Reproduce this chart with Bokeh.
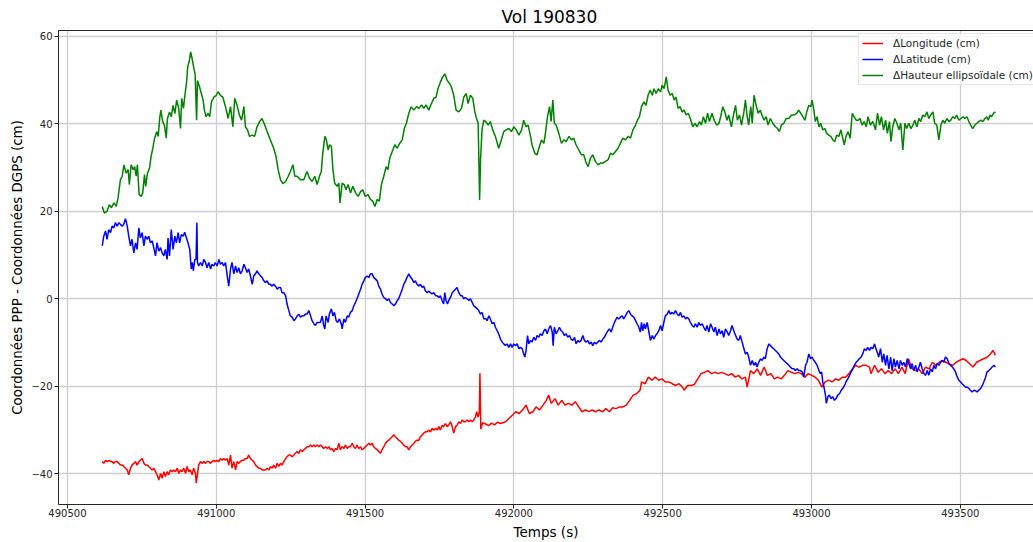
from bokeh.plotting import figure
from bokeh.models import (LinearAxis, FixedTicker, BasicTickFormatter, Legend,
                          LegendItem, Range1d)
from bokeh.embed import file_html
from bokeh.resources import INLINE

FONT = "DejaVu Sans"

title_text = "Vol 190830"
x_label = "Temps (s)"
y_label = "Coordonnées PPP - Coordonnées DGPS (cm)"
series_names = ["\u0394Longitude (cm)", "\u0394Latitude (cm)", "\u0394Hauteur ellipsoïdale (cm)"]
x_ticks = [490500, 491000, 491500, 492000, 492500, 493000, 493500]
y_ticks = [-40, -20, 0, 20, 40, 60]

# --- Delta Longitude (red)
time_lon = [
    490617, 490622, 490628, 490633, 490639, 490645, 490650, 490656, 490661, 490667, 490673, 490678, 490684, 490689,
    490695, 490701, 490706, 490712, 490717, 490723, 490729, 490734, 490740, 490745, 490751, 490757, 490762, 490768,
    490773, 490779, 490785, 490790, 490796, 490801, 490807, 490813, 490818, 490824, 490829, 490835, 490840, 490846,
    490852, 490857, 490863, 490869, 490874, 490880, 490885, 490891, 490897, 490902, 490908, 490913, 490919, 490924,
    490930, 490933, 490938, 490941, 490947, 490953, 490958, 490964, 490969, 490975, 490981, 490986, 490992, 490997,
    491003, 491009, 491014, 491020, 491025, 491031,
    491037, 491042, 491048, 491053, 491059, 491065, 491070, 491076, 491081, 491087, 491093, 491098, 491104, 491109,
    491115, 491121, 491126, 491132, 491137, 491143, 491149, 491154, 491160, 491165, 491171, 491177, 491182, 491188,
    491193, 491199, 491205, 491210, 491216, 491221, 491227, 491233, 491238, 491244, 491249, 491255, 491261, 491266,
    491272, 491277, 491283, 491289, 491294, 491300, 491305, 491311, 491317, 491322, 491328, 491333, 491339, 491345,
    491350, 491356, 491361, 491367, 491373, 491378, 491384, 491389, 491395, 491401, 491406, 491412, 491417, 491423,
    491429, 491434, 491440, 491445, 491451, 491457, 491462, 491468,
    491473, 491479, 491485, 491490, 491496, 491501, 491507, 491513, 491518, 491524, 491529, 491535, 491541, 491546,
    491552, 491557, 491563, 491569, 491574, 491580, 491585, 491591, 491597, 491602, 491608, 491613, 491619, 491625,
    491630, 491636, 491641, 491647, 491653, 491658, 491664, 491669, 491675, 491681, 491686, 491692, 491697, 491703,
    491709, 491714, 491720, 491725, 491731, 491737, 491742, 491748, 491753, 491759, 491764, 491770, 491776, 491781,
    491787, 491793, 491798, 491804, 491809, 491815, 491821, 491826, 491832, 491837, 491843, 491849, 491854, 491860,
    491865, 491871, 491875, 491880, 491884, 491886, 491889, 491895, 491905, 491915, 491925, 491935, 491945,
    491955, 491972, 491984, 491995, 492006, 492018, 492029, 492041, 492052, 492064, 492075, 492086, 492098, 492109,
    492117, 492126, 492138, 492149, 492161, 492172, 492183, 492195, 492206, 492218, 492229, 492241, 492252, 492263,
    492275, 492286, 492298, 492309, 492321, 492332, 492343, 492355, 492366, 492378, 492389, 492401, 492412, 492424,
    492429, 492441, 492452, 492464, 492475, 492487, 492498, 492509, 492521, 492532, 492544, 492555, 492567, 492572,
    492584, 492595, 492606, 492618, 492629, 492641, 492652, 492664, 492675, 492687, 492698, 492709, 492721, 492732,
    492744, 492755, 492766, 492778, 492784, 492795, 492806, 492818, 492829, 492841, 492852, 492864, 492875, 492886,
    492898, 492909, 492921, 492932, 492944, 492955, 492966, 492978, 492989, 493001, 493012, 493023, 493035, 493046,
    493058, 493069, 493081, 493092, 493104, 493115, 493126, 493138, 493149, 493160, 493172, 493183, 493195, 493200,
    493212, 493224, 493235, 493247, 493258, 493269, 493281, 493292, 493304, 493315, 493326, 493338, 493349, 493360,
    493372, 493383, 493395, 493406, 493417, 493429, 493440, 493452, 493463, 493475, 493486, 493497, 493509, 493520,
    493532, 493543, 493555, 493566, 493578, 493589, 493601, 493610, 493618,
]
dlon = [
    -37.2, -37.6, -36.9, -37.2, -36.9, -37.2, -37.2, -37.6, -37.2, -37.2, -37.6, -38.0, -38.0, -38.3,
    -38.7, -39.1, -40.2, -38.7, -38.0, -37.6, -37.2, -38.0, -37.2, -36.9, -36.5, -37.6, -38.0, -38.0,
    -38.3, -38.7, -39.1, -38.7, -39.5, -40.2, -41.4, -39.9, -41.0, -39.5, -40.6, -39.5, -40.2, -39.1,
    -39.5, -39.1, -39.5, -38.7, -39.9, -39.1, -39.5, -38.7, -39.9, -38.3, -39.5, -39.1, -40.2, -38.7,
    -39.9, -42.1, -39.5, -38.0, -37.2, -37.6, -37.2, -37.6, -37.2, -37.2, -37.6, -37.2, -36.9, -37.2,
    -36.9, -37.2, -36.5, -36.9, -36.5, -36.9,
    -36.5, -38.0, -35.7, -38.7, -37.2, -39.1, -37.2, -37.6, -37.2, -36.9, -36.9, -36.5, -36.5, -35.7,
    -36.5, -36.9, -37.2, -38.0, -38.3, -38.7, -38.7, -39.1, -39.1, -39.1, -38.7, -39.1, -38.3, -38.7,
    -38.0, -38.7, -37.6, -38.3, -37.6, -38.0, -37.2, -36.5, -36.1, -35.7, -35.7, -36.1, -35.7, -35.3,
    -34.9, -35.3, -34.5, -34.9, -34.5, -34.2, -33.8, -33.8, -33.4, -33.8, -33.4, -33.8, -33.4, -33.8,
    -33.4, -33.8, -34.2, -33.8, -34.2, -33.8, -34.5, -34.2, -34.9, -34.2, -34.5, -33.0, -34.5, -33.8,
    -34.2, -33.4, -34.2, -33.8, -33.8, -33.0, -33.8, -34.2,
    -33.4, -34.2, -33.8, -34.5, -34.2, -33.8, -33.4, -33.0, -33.4, -33.0, -33.8, -34.2, -34.5, -34.9,
    -35.3, -34.5, -33.8, -33.0, -32.6, -32.3, -31.9, -31.5, -31.1, -31.5, -31.9, -32.3, -32.6, -33.0,
    -33.4, -33.8, -33.8, -34.5, -33.8, -33.4, -33.0, -32.6, -32.3, -32.3, -31.5, -31.1, -30.7, -30.4,
    -30.4, -30.0, -30.4, -29.6, -30.0, -29.6, -30.0, -29.2, -30.0, -28.9, -29.2, -28.5, -29.2, -28.9,
    -28.1, -29.2, -30.7, -29.2, -28.9, -28.1, -28.5, -27.7, -28.1, -28.1, -27.7, -28.1, -27.7, -28.1,
    -27.7, -27.0, -25.8, -27.0, -25.8, -17.0, -29.8, -28.3, -28.6, -29.0, -28.4, -28.8, -28.2,
    -28.5, -28.1, -27.3, -26.6, -25.8, -26.2, -25.4, -24.3, -26.2, -25.8, -24.7, -25.4, -24.3, -23.2,
    -22.0, -23.9, -22.8, -24.3, -23.2, -24.3, -23.9, -24.3, -23.5, -24.7, -25.8, -25.4, -25.8, -25.4,
    -25.8, -25.4, -25.8, -25.1, -25.8, -24.9, -25.1, -24.7, -24.7, -24.3, -23.2, -22.0, -21.7, -20.9,
    -19.0, -19.4, -17.9, -18.6, -17.9, -18.6, -18.3, -19.0, -19.0, -19.4, -19.8, -19.4, -20.2, -20.9,
    -19.8, -19.8, -19.6, -18.3, -17.1, -16.8, -16.4, -17.1, -16.8, -17.1, -16.8, -17.1, -17.5, -17.1,
    -17.9, -17.5, -18.3, -17.9, -20.2, -16.4, -17.1, -16.0, -17.5, -15.6, -17.5, -17.1, -18.3, -17.9,
    -18.3, -17.5, -16.4, -16.8, -17.1, -16.8, -17.1, -17.9, -17.1, -17.5, -17.9, -18.6, -20.2, -19.0,
    -18.6, -19.0, -18.3, -18.6, -17.9, -17.9, -17.1, -16.0, -15.2, -15.6, -15.2, -15.2, -15.6, -17.1,
    -15.2, -16.8, -16.0, -17.1, -16.4, -17.1, -16.0, -17.1, -15.6, -17.1, -13.7, -16.0, -16.4, -16.0,
    -17.1, -15.6, -16.0, -14.5, -15.2, -14.5, -14.1, -14.5, -14.9, -15.2, -14.5, -14.1, -13.7, -14.1,
    -14.9, -15.6, -14.5, -14.1, -13.7, -13.4, -12.6, -11.8, -12.9,
]

# --- Delta Latitude (blue)
time_lat = [
    490617, 490622, 490628, 490633, 490639, 490645, 490650, 490656, 490661, 490667, 490673, 490678, 490684, 490689,
    490695, 490701, 490706, 490712, 490717, 490723, 490729, 490734, 490740, 490745, 490751, 490757, 490762, 490768,
    490773, 490779, 490785, 490790, 490796, 490801, 490807, 490813, 490818, 490824, 490829, 490835, 490838, 490843,
    490849, 490855, 490861, 490866, 490872, 490877, 490883, 490889, 490894, 490900, 490905, 490911, 490916, 490920,
    490923, 490928, 490932, 490935, 490937, 490941, 490947, 490953, 490958, 490964, 490969, 490975, 490981, 490986,
    490992, 490997, 491003, 491009, 491014, 491020, 491025, 491031,
    491037, 491042, 491048, 491053, 491059, 491065, 491070, 491076, 491081, 491087, 491093, 491098, 491104, 491109,
    491115, 491121, 491126, 491132, 491137, 491143, 491149, 491154, 491160, 491165, 491171, 491177, 491182, 491188,
    491193, 491199, 491205, 491210, 491216, 491221, 491227, 491233, 491238, 491244, 491249, 491255, 491261, 491266,
    491272, 491277, 491283, 491289, 491294, 491300, 491305, 491311, 491317, 491322, 491328, 491333, 491339, 491345,
    491350, 491356, 491361, 491365, 491369, 491376, 491380, 491387, 491392, 491397, 491403, 491408, 491414, 491420,
    491423, 491429, 491434, 491440, 491445, 491451, 491457, 491462, 491468,
    491473, 491479, 491485, 491490, 491496, 491501, 491507, 491513, 491518, 491524, 491529, 491535, 491541, 491546,
    491552, 491557, 491563, 491569, 491574, 491580, 491585, 491591, 491597, 491602, 491608, 491613, 491619, 491625,
    491630, 491636, 491641, 491647, 491653, 491658, 491664, 491669, 491675, 491681, 491686, 491692, 491697, 491703,
    491709, 491714, 491720, 491725, 491731, 491737, 491742, 491748, 491753, 491759, 491764, 491768, 491772, 491777,
    491781, 491787, 491793, 491798, 491804, 491809, 491815, 491821, 491826, 491832, 491837, 491843, 491849, 491854,
    491860, 491865, 491871, 491877, 491882, 491888, 491893, 491899, 491905,
    491910, 491916, 491921, 491927, 491933, 491938, 491944, 491949, 491955, 491961, 491966, 491972, 491977, 491983,
    491989, 491994, 492000, 492005, 492011, 492017, 492022, 492028, 492033, 492037, 492041, 492046, 492050, 492056,
    492061, 492067, 492073, 492078, 492084, 492089, 492095, 492101, 492106, 492112, 492117, 492123, 492129, 492132,
    492136, 492142, 492148, 492153, 492159, 492164, 492170, 492176, 492181, 492187, 492192, 492198, 492204, 492209,
    492215, 492220, 492226, 492232, 492237, 492243, 492248, 492254, 492260, 492265, 492271, 492276, 492282, 492288,
    492293, 492299, 492304, 492310, 492316, 492321, 492327, 492332, 492338, 492341,
    492347, 492353, 492358, 492364, 492369, 492375, 492381, 492386, 492392, 492397, 492403, 492409, 492414, 492420,
    492425, 492429, 492433, 492438, 492442, 492448, 492453, 492459, 492465, 492470, 492476, 492481, 492487, 492493,
    492498, 492504, 492509, 492515, 492521, 492526, 492532, 492537, 492543, 492549, 492554, 492560, 492565, 492571,
    492577, 492582, 492588, 492593, 492599, 492605, 492610, 492616, 492621, 492627, 492633, 492638, 492644, 492649,
    492655, 492661, 492666, 492672, 492677, 492683, 492689, 492694, 492700, 492705, 492711, 492717, 492722, 492728,
    492733, 492739, 492745, 492750, 492756, 492761, 492767, 492773, 492778,
    492784, 492789, 492795, 492801, 492806, 492812, 492817, 492823, 492829, 492834, 492840, 492845, 492851, 492857,
    492862, 492868, 492873, 492879, 492885, 492890, 492896, 492901, 492907, 492913, 492918, 492924, 492929, 492935,
    492941, 492946, 492952, 492957, 492963, 492969, 492974, 492980, 492985, 492991, 492997, 493002, 493008, 493013,
    493019, 493025, 493030, 493034, 493038, 493043, 493047, 493050, 493055, 493060, 493066, 493072, 493077, 493083,
    493088, 493094, 493100, 493105, 493111, 493116, 493122, 493128, 493133, 493139, 493144, 493150, 493156, 493161,
    493167, 493172, 493178, 493184, 493189, 493195, 493200, 493206, 493212, 493215,
    493221, 493226, 493232, 493238, 493243, 493249, 493254, 493260, 493266, 493271, 493277, 493282, 493288, 493294,
    493299, 493305, 493310, 493316, 493322, 493327, 493333, 493338, 493344, 493350, 493355, 493361, 493366, 493372,
    493378, 493383, 493389, 493394, 493400, 493406, 493411, 493417, 493422, 493428, 493434, 493439, 493445, 493450,
    493456, 493462, 493467, 493473, 493478, 493484, 493490, 493495, 493501, 493506, 493512, 493518, 493523, 493529,
    493534, 493540, 493546, 493551, 493557, 493562, 493568, 493574, 493579, 493585, 493590, 493596, 493602, 493607,
    493613, 493618,
]
dlat = [
    12.1, 14.3, 15.5, 13.6, 15.8, 15.1, 16.6, 16.2, 17.4, 16.6, 17.4, 17.0, 16.6, 17.0,
    18.3, 16.6, 14.3, 12.1, 13.6, 10.5, 12.8, 11.3, 16.2, 13.9, 15.1, 12.1, 14.3, 13.6,
    14.3, 12.8, 13.2, 11.7, 9.8, 12.8, 10.9, 11.7, 10.5, 9.8, 11.3, 9.0, 13.9, 9.8,
    15.8, 11.3, 14.3, 12.8, 15.1, 12.8, 14.7, 14.3, 15.2, 13.9, 12.8, 11.3, 6.8, 8.3,
    6.4, 9.0, 9.0, 17.4, 8.3, 7.5, 8.3, 7.5, 9.0, 8.3, 7.1, 8.3, 6.8, 7.9,
    7.5, 8.3, 7.5, 9.0, 7.9, 8.3, 7.5, 8.3,
    5.2, 2.9, 6.8, 8.3, 5.7, 7.5, 6.0, 7.1, 5.7, 6.4, 7.9, 7.1, 6.0, 6.8,
    5.2, 3.3, 5.2, 5.7, 6.4, 5.7, 5.2, 4.9, 4.1, 3.7, 4.1, 3.3, 3.3, 2.9,
    3.3, 2.9, 2.2, 2.6, 2.6, 1.4, 1.4, 0.7, -1.2, -2.7, -3.9, -4.2, -5.0, -4.6,
    -3.9, -3.5, -4.2, -3.9, -3.9, -3.5, -3.5, -2.7, -3.9, -5.0, -5.7, -6.1, -5.4, -5.4,
    -5.4, -3.9, -6.1, -6.9, -3.9, -5.4, -3.5, -2.3, -3.9, -3.1, -5.0, -5.4, -4.6, -5.7,
    -6.9, -4.6, -5.4, -3.9, -4.2, -3.1, -2.7, -1.6, -0.8,
    0.0, 1.1, 2.2, 3.3, 4.1, 4.9, 5.2, 4.9, 5.7, 5.7, 4.9, 4.5, 4.1, 2.9,
    2.2, 1.1, 0.3, 0.0, -0.4, 0.0, -0.8, -1.2, -1.6, -1.2, -0.4, 0.0, 1.1, 2.2,
    3.3, 4.1, 4.9, 5.7, 4.9, 4.5, 3.7, 4.1, 3.3, 2.9, 3.3, 2.6, 2.9, 1.8,
    1.4, 1.8, 1.4, 1.1, 1.4, 0.7, 0.7, 0.3, 0.7, -0.4, -1.2, 1.4, -0.4, -1.2,
    -0.4, 0.3, 1.4, 1.8, 2.2, 2.6, 1.4, 0.7, 0.7, 0.0, 0.3, 0.0, -0.4, 0.0,
    -0.8, -1.6, -1.9, -2.3, -2.7, -3.5, -3.1, -4.6, -4.5,
    -5.0, -3.9, -4.6, -5.7, -5.4, -6.5, -7.3, -8.0, -9.2, -9.9, -10.3, -10.7, -10.3, -11.1,
    -10.3, -11.1, -10.3, -10.7, -10.3, -11.4, -11.1, -11.4, -12.6, -13.3, -11.8, -8.4, -10.3, -9.5,
    -9.9, -8.8, -9.5, -8.4, -8.8, -8.0, -8.4, -7.3, -6.9, -8.0, -6.9, -6.1, -7.6, -10.7,
    -6.5, -8.0, -7.3, -6.5, -7.3, -7.6, -8.4, -8.0, -8.8, -8.4, -9.2, -9.5, -8.8, -10.3,
    -9.5, -9.9, -9.5, -8.4, -9.5, -9.9, -9.5, -10.3, -9.9, -10.7, -9.9, -10.3, -9.9, -9.5,
    -9.9, -9.2, -8.8, -8.0, -7.3, -6.9, -7.6, -6.5, -5.4, -5.0,
    -4.2, -4.6, -4.2, -3.9, -4.6, -3.9, -3.1, -2.7, -3.5, -3.9, -4.2, -5.0, -5.7, -6.5,
    -7.6, -5.4, -7.3, -5.7, -6.9, -5.4, -7.3, -9.5, -8.4, -9.2, -8.4, -8.0, -7.3, -6.1,
    -7.3, -5.4, -3.9, -3.5, -2.7, -3.5, -3.1, -3.5, -2.7, -3.5, -3.9, -3.1, -4.2, -3.9,
    -4.6, -4.2, -4.6, -5.4, -6.1, -6.5, -5.7, -6.5, -5.4, -6.1, -5.7, -6.5, -7.3, -6.1,
    -7.6, -5.7, -6.5, -7.6, -6.5, -8.4, -6.9, -8.0, -7.3, -8.8, -6.9, -7.6, -8.4, -7.3,
    -6.1, -7.3, -8.4, -9.2, -9.5, -8.4, -9.9, -11.4, -12.6,
    -12.2, -13.3, -15.2, -14.1, -15.2, -14.5, -15.6, -14.5, -13.7, -14.1, -13.3, -13.7, -11.4, -10.3,
    -10.7, -11.1, -11.4, -11.8, -12.2, -12.6, -13.3, -13.7, -14.1, -14.5, -14.8, -15.2, -15.6, -16.0,
    -16.0, -16.4, -16.0, -16.4, -16.4, -16.7, -17.9, -15.2, -14.5, -12.6, -13.7, -13.3, -14.1, -14.5,
    -15.2, -16.4, -17.1, -16.7, -19.0, -20.5, -22.0, -23.9, -22.4, -22.0, -22.8, -22.4, -23.2, -22.8,
    -22.0, -21.7, -20.9, -20.5, -19.8, -19.0, -18.3, -17.5, -16.7, -16.0, -15.2, -14.5, -14.1, -13.7,
    -13.3, -12.6, -11.4, -11.8, -11.1, -11.8, -11.1, -11.4, -10.3, -11.1,
    -12.2, -13.3, -11.4, -14.5, -12.6, -15.2, -12.9, -16.0, -13.3, -16.4, -13.7, -15.6, -14.1, -16.0,
    -14.1, -15.2, -14.5, -15.6, -13.7, -14.8, -16.0, -14.8, -16.4, -15.2, -16.7, -15.6, -14.5, -16.0,
    -17.1, -17.5, -16.4, -17.5, -16.0, -16.7, -15.2, -16.0, -14.8, -15.2, -14.5, -14.1, -14.5, -13.3,
    -13.7, -14.8, -15.2, -15.6, -16.0, -16.7, -17.9, -18.6, -19.0, -19.4, -19.8, -20.2, -20.2, -20.5,
    -20.9, -21.3, -20.9, -21.0, -21.3, -20.9, -20.5, -19.8, -19.0, -17.9, -16.7, -16.4, -16.0, -15.6,
    -15.2, -15.6,
]

# --- Delta ellipsoidal height (green)
time_h = [
    490617, 490624, 490633, 490641, 490648, 490656, 490664, 490670, 490678, 490684, 490690, 490697, 490704, 490708,
    490714, 490721, 490726, 490731, 490735, 490741, 490748, 490753, 490759, 490763, 490769, 490776, 490781, 490787,
    490793, 490800, 490805, 490810, 490814, 490820, 490826, 490832, 490836, 490843, 490849, 490855, 490861, 490867,
    490874, 490880, 490884, 490890, 490894, 490900, 490904, 490910, 490914, 490919, 490925, 490929, 490934, 490937,
    490944, 490950, 490956, 490960, 490966, 490972, 490978, 490984, 490992, 491000, 491006, 491014, 491022, 491031,
    491040, 491048, 491056, 491062, 491070, 491078, 491085, 491093, 491098, 491105, 491112, 491121, 491129, 491137,
    491146, 491154, 491163, 491171, 491182, 491193, 491201, 491208, 491216, 491224, 491233, 491242, 491249, 491258,
    491264, 491272, 491283, 491294, 491305, 491313, 491322, 491331, 491339, 491347, 491353, 491358, 491365, 491370,
    491376, 491381, 491387, 491392, 491398, 491406, 491412, 491416, 491423, 491430, 491436, 491443, 491451, 491459,
    491468, 491477, 491485, 491492, 491501, 491510, 491518, 491526, 491533, 491541, 491548, 491555, 491563, 491571,
    491577, 491583, 491591, 491600, 491608, 491616, 491625, 491632, 491639, 491647, 491655, 491664, 491673, 491681,
    491690, 491697, 491705, 491714, 491723, 491731, 491739, 491745, 491753, 491761, 491768, 491776, 491784, 491790,
    491798, 491806, 491815, 491824, 491832, 491840, 491846, 491854, 491862, 491869, 491873, 491880, 491885, 491888,
    491893, 491899, 491905, 491914, 491921, 491929, 491938, 491949, 491958, 491966, 491974, 491983, 491992, 492000,
    492008, 492017, 492026, 492033, 492041, 492048, 492056, 492061, 492070, 492078, 492086, 492093, 492101, 492106,
    492113, 492120, 492125, 492131, 492136, 492142, 492151, 492160, 492168, 492176, 492185, 492194, 492201, 492209,
    492218, 492227, 492235, 492243, 492250, 492257, 492265, 492274, 492283, 492291, 492299, 492308, 492317, 492325,
    492332, 492341, 492350, 492358, 492366, 492375, 492384, 492392, 492400, 492409, 492415, 492422, 492429, 492437,
    492444, 492451, 492458, 492465, 492471, 492478, 492485, 492493, 492498, 492505, 492512, 492518, 492525, 492532,
    492539, 492545, 492552, 492559, 492565, 492572, 492579, 492586, 492593, 492601, 492608, 492616, 492624, 492630,
    492637, 492644, 492651, 492657, 492666, 492673, 492681, 492689, 492695, 492702, 492709, 492716, 492722, 492731,
    492738, 492745, 492751, 492758, 492765, 492773, 492778, 492784, 492789, 492796, 492801, 492807, 492814, 492821,
    492828, 492834, 492841, 492848, 492854, 492862, 492870, 492879, 492886, 492892, 492899, 492907, 492915, 492924,
    492933, 492942, 492951, 492957, 492964, 492971, 492978, 492984, 492991, 492998, 493002, 493008, 493013, 493019,
    493025, 493031, 493038, 493045, 493051, 493058, 493065, 493072, 493078, 493085, 493092, 493099, 493105, 493110,
    493116, 493123, 493130, 493137, 493143, 493150, 493157, 493163, 493170, 493177, 493184, 493190, 493198, 493206,
    493215, 493222, 493229, 493235, 493242, 493249, 493255, 493262, 493267, 493273, 493280, 493287, 493294, 493300,
    493307, 493314, 493320, 493327, 493334, 493341, 493347, 493354, 493361, 493367, 493374, 493381, 493388, 493394,
    493401, 493408, 493414, 493421, 493428, 493435, 493441, 493448, 493455, 493462, 493468, 493475, 493482, 493488,
    493495, 493502, 493509, 493515, 493522, 493529, 493535, 493542, 493549, 493556, 493562, 493569, 493576, 493583,
    493589, 493594, 493600, 493605, 493612, 493618,
]
dh = [
    21.1, 19.6, 20.0, 21.5, 20.8, 21.9, 21.1, 23.0, 27.2, 28.0, 30.6, 28.7, 29.5, 26.1,
    30.6, 29.5, 30.2, 28.0, 30.6, 23.8, 23.4, 24.2, 28.4, 25.7, 28.7, 29.9, 32.5, 34.4,
    36.7, 38.2, 37.1, 41.2, 43.1, 40.5, 39.7, 36.7, 41.2, 42.7, 41.6, 44.2, 42.3, 45.4,
    43.5, 38.9, 45.8, 43.5, 46.1, 49.2, 52.9, 54.5, 56.4, 54.9, 52.6, 51.4, 40.8, 49.9,
    48.4, 46.9, 45.4, 43.1, 41.6, 42.4, 41.6, 45.0, 46.1, 46.5, 47.3, 46.5, 46.1, 43.9,
    41.2, 43.9, 39.3, 45.8, 44.2, 42.0, 40.8, 43.9, 39.3, 38.6, 37.1, 37.4, 37.1, 39.3,
    40.5, 41.2, 39.7, 38.2, 36.3, 34.4, 32.5, 29.5, 27.2, 26.3, 26.8, 28.0, 29.1, 30.6,
    28.0, 28.0, 27.2, 27.2, 29.1, 27.6, 26.8, 28.0, 26.1, 28.0, 29.1, 33.3, 37.1, 36.3,
    34.0, 35.2, 34.8, 29.5, 26.4, 25.7, 26.4, 21.9, 26.4, 26.1, 24.9, 26.1, 24.2, 25.7,
    24.2, 23.4, 24.5, 24.9, 23.4, 23.8, 22.7, 22.3, 21.1, 22.7, 22.3, 26.1, 28.0, 30.2,
    29.5, 32.1, 33.6, 35.2, 34.4, 35.5, 36.3, 38.9, 40.1, 42.4, 43.9, 43.1, 43.9, 43.5,
    44.3, 43.5, 44.3, 43.1, 44.6, 45.8, 46.1, 48.0, 49.5, 50.7, 51.4, 49.9, 49.2, 48.4,
    46.5, 43.1, 42.7, 43.5, 46.1, 46.9, 44.6, 46.5, 45.8, 42.7, 41.6, 40.1, 22.6, 31.7,
    38.6, 40.8, 40.5, 39.7, 40.5, 38.6, 37.1, 34.4, 36.3, 38.2, 38.6, 38.9, 38.2, 39.3,
    38.6, 37.4, 38.6, 40.8, 39.3, 39.7, 37.1, 35.2, 33.3, 32.9, 34.8, 36.3, 35.5, 37.8,
    41.6, 43.9, 40.5, 45.4, 40.1, 39.7, 37.8, 35.5, 36.3, 35.9, 37.1, 36.3, 36.7, 35.2,
    34.0, 32.9, 32.9, 31.0, 30.2, 32.1, 32.9, 31.4, 30.6, 31.0, 31.0, 31.4, 31.8, 33.3,
    32.9, 33.6, 34.4, 35.5, 36.7, 36.3, 37.1, 36.7, 38.6, 39.7, 40.8, 41.6, 43.9, 45.0,
    44.2, 46.5, 47.7, 46.5, 48.0, 46.9, 48.0, 47.3, 48.8, 48.0, 50.7, 47.7, 46.5, 46.9,
    45.4, 46.1, 43.5, 43.9, 42.7, 43.1, 42.0, 42.4, 41.2, 39.3, 40.1, 39.3, 40.5, 39.7,
    41.6, 40.1, 42.4, 40.5, 42.4, 40.8, 39.7, 40.1, 41.6, 43.9, 42.7, 40.8, 42.0, 39.3,
    42.0, 44.2, 40.8, 42.0, 39.7, 42.7, 45.4, 41.6, 39.7, 43.9, 40.1, 46.5, 44.2, 42.4,
    43.1, 41.9, 40.8, 41.6, 39.7, 41.2, 40.1, 39.3, 38.9, 38.2, 39.7, 40.1, 41.2, 41.2,
    42.0, 42.0, 42.4, 43.1, 42.4, 41.6, 40.8, 42.7, 44.2, 43.9, 45.4, 43.1, 40.5, 41.6,
    39.3, 40.1, 38.6, 38.9, 37.8, 37.4, 37.1, 36.3, 35.9, 37.4, 37.1, 38.6, 36.7, 35.2,
    37.1, 38.2, 36.7, 42.4, 41.6, 40.8, 40.8, 41.2, 39.7, 40.5, 39.3, 41.6, 39.7, 40.5,
    38.6, 42.4, 39.7, 41.6, 38.6, 40.8, 37.8, 40.5, 35.9, 39.3, 41.2, 40.1, 38.6, 40.1,
    34.0, 40.1, 38.9, 40.1, 38.9, 39.7, 40.8, 39.3, 41.2, 40.5, 42.0, 41.6, 42.7, 41.2,
    42.0, 42.7, 40.1, 39.7, 36.3, 39.7, 40.8, 40.1, 41.2, 40.5, 40.8, 41.6, 41.2, 42.0,
    40.8, 41.2, 41.6, 41.2, 41.6, 40.5, 39.7, 38.9, 39.7, 40.1, 40.5, 40.8, 40.5, 41.2,
    41.6, 40.8, 42.0, 41.6, 42.4, 42.7,
]

p = figure(width=1033, height=542, output_backend="svg", toolbar_location=None,
           x_range=Range1d(490470, 493746), y_range=Range1d(-47.0, 61.3),
           min_border_left=58, min_border_right=0, min_border_top=30, min_border_bottom=0,
           background_fill_color="white", border_fill_color="white")
p.outline_line_color = None

p.title.text = title_text
p.title.text_font = FONT
p.title.text_font_size = "17px"
p.title.text_font_style = "normal"
p.title.text_color = "#000000"
p.title.align = "left"
p.title.offset = 443
p.title.standoff = 7

for ax in (p.xaxis[0], p.yaxis[0]):
    ax.axis_line_color = "#262626"
    ax.axis_line_width = 1
    ax.major_tick_line_color = "#262626"
    ax.major_tick_out = 4
    ax.major_tick_in = 0
    ax.minor_tick_line_color = None
    ax.major_label_text_font = FONT
    ax.major_label_text_font_size = "10px"
    ax.major_label_text_color = "#262626"
    ax.major_label_standoff = 2
    ax.axis_label_text_font = FONT
    ax.axis_label_text_font_style = "normal"
    ax.axis_label_text_color = "#000000"

p.xaxis[0].ticker = FixedTicker(ticks=x_ticks)
p.xaxis[0].formatter = BasicTickFormatter(use_scientific=False)
p.xaxis[0].axis_label = x_label
p.xaxis[0].axis_label_text_font_size = "13.5px"
p.xaxis[0].major_label_standoff = 0
p.xaxis[0].axis_label_standoff = 4
p.yaxis[0].ticker = FixedTicker(ticks=y_ticks)
p.yaxis[0].major_label_overrides = {t: str(t).replace("-", "\u2212") for t in y_ticks}
p.yaxis[0].axis_label = y_label
p.yaxis[0].axis_label_text_font_size = "13.4px"
p.yaxis[0].axis_label_standoff = 3

top_spine = LinearAxis(ticker=FixedTicker(ticks=[]), major_tick_out=0, major_tick_in=0,
                       major_label_standoff=0, axis_line_color="#262626",
                       major_tick_line_color=None, minor_tick_line_color=None)
p.add_layout(top_spine, "above")

p.xgrid.grid_line_color = "#cfcfcf"
p.ygrid.grid_line_color = "#cfcfcf"
p.xgrid.grid_line_width = 1.3
p.ygrid.grid_line_width = 1.3

r_lon = p.line(time_lon, dlon, line_color="#ff0000", line_width=1.5)
r_lat = p.line(time_lat, dlat, line_color="#0000ff", line_width=1.5)
r_h = p.line(time_h, dh, line_color="#008000", line_width=1.5)

legend = Legend(items=[LegendItem(label=series_names[0], renderers=[r_lon]),
                       LegendItem(label=series_names[1], renderers=[r_lat]),
                       LegendItem(label=series_names[2], renderers=[r_h])],
                location=(800, 419))
legend.label_text_font = FONT
legend.label_text_font_size = "10.5px"
legend.label_text_color = "#262626"
legend.glyph_width = 21
legend.glyph_height = 12
legend.label_height = 12
legend.label_standoff = 10
legend.spacing = 4
legend.padding = 3
legend.margin = 0
legend.border_line_color = "#cccccc"
legend.border_line_width = 1
legend.background_fill_color = "white"
legend.background_fill_alpha = 0.8
p.add_layout(legend)

open("out.html", "w").write(file_html(p, INLINE))
